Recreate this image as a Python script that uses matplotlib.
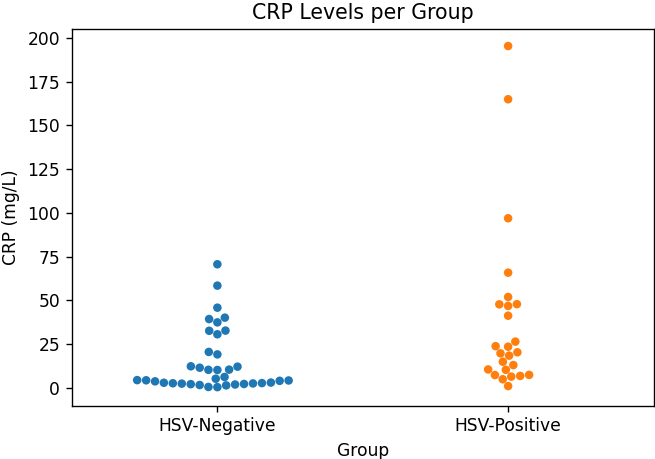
import matplotlib
matplotlib.use("Agg")
import matplotlib.pyplot as plt
import seaborn as sns
import pandas as pd

groups = ["HSV-Negative", "HSV-Positive"]

crp_negative = [
    70.7, 58.5, 45.9, 40.2, 39.4, 37.5, 32.8, 32.7, 30.7, 20.6, 19.2,
    12.4, 12.2, 11.6, 10.5, 10.4, 10.3, 6.3, 5.3,
    0.5, 0.6, 1.5, 1.7, 2.0, 2.2, 2.3, 2.5, 2.6, 2.7, 2.8, 3.0, 3.1,
    3.8, 4.1, 4.3, 4.4, 4.5,
]

crp_positive = [
    195.4, 165.0, 97.0, 65.9,
    52.0, 47.9, 47.8, 46.9, 41.3,
    26.5, 23.9, 23.6, 20.4, 19.8, 18.5, 15.0, 13.1,
    10.6, 10.4, 7.5, 7.4, 6.9, 6.5, 5.0, 1.1,
]

y_ticks = [0, 25, 50, 75, 100, 125, 150, 175, 200]
colors = ["#1f77b4", "#ff7f0e"]

df = pd.DataFrame({
    "Group": [groups[0]] * len(crp_negative) + [groups[1]] * len(crp_positive),
    "CRP": crp_negative + crp_positive,
})

DPI = 123
W, H = 655, 459
fig = plt.figure(figsize=(W / DPI, H / DPI), dpi=DPI)
left, right, top, bottom = 72, 653.5, 29, 405.5
ax = fig.add_axes([left / W, (H - bottom) / H, (right - left) / W, (bottom - top) / H])

sns.swarmplot(data=df, x="Group", y="CRP", hue="Group", palette=colors,
              size=5, ax=ax, legend=False, order=groups)

ax.set_ylim(-10.0, 205.14)
ax.set_yticks(y_ticks)
ax.set_xlim(-0.5, 1.5)
ax.set_title("CRP Levels per Group")
ax.set_xlabel("Group")
ax.set_ylabel("CRP (mg/L)")

fig.savefig("out.png", dpi=DPI)
